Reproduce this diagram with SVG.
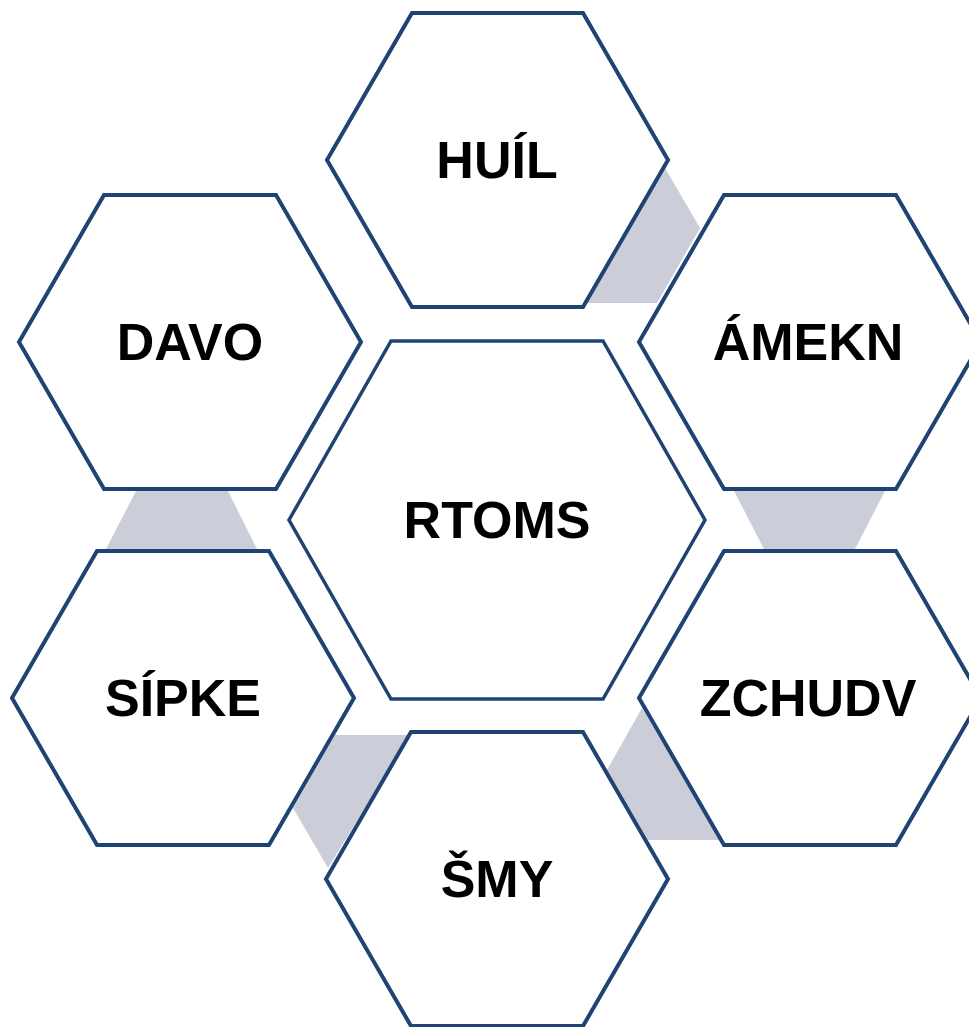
<svg xmlns="http://www.w3.org/2000/svg" width="969" height="1027" viewBox="0 0 969 1027">
<style>
.hex{fill:#ffffff;stroke:#1f4372;stroke-width:4;stroke-linejoin:miter}
.hexc{fill:#ffffff;stroke:#1f4372;stroke-width:3.5}
.link{fill:#cbced8;stroke:none}
.lbl{font-family:"Liberation Sans",Arial,sans-serif;font-weight:bold;font-size:52px;fill:#000000;text-anchor:middle}
</style>
<rect width="969" height="1027" fill="#ffffff"/>
<g id="connectors">
<polygon class="link" points="665,168 700,228 657,303 585,303"/>
<polygon class="link" points="137,489 227,489 258,551 105,551"/>
<polygon class="link" points="733,489 886,489 854,551 765,551"/>
<polygon class="link" points="335,735 410,735 328,868 293,808"/>
<polygon class="link" points="642,708 607,770 648,840 722,840"/>
</g>
<g id="node-huil">
<polygon class="hex" points="412,13 583,13 668,160 583,307 412,307 327,160"/>
<text class="lbl" x="497" y="178">HUÍL</text>
</g>
<g id="node-davo">
<polygon class="hex" points="104,195 276,195 361,342 276,489 104,489 19,342"/>
<text class="lbl" x="190" y="360">DAVO</text>
</g>
<g id="node-amekn">
<polygon class="hex" points="724,195 896,195 981,342 896,489 724,489 639,342"/>
<text class="lbl" x="808" y="360">ÁMEKN</text>
</g>
<g id="node-rtoms">
<polygon class="hexc" points="391,341 603,341 705,520 603,699 391,699 289,520"/>
<text class="lbl" x="497" y="538">RTOMS</text>
</g>
<g id="node-sipke">
<polygon class="hex" points="97,551 269,551 354,698 269,845 97,845 12,698"/>
<text class="lbl" x="183" y="716">SÍPKE</text>
</g>
<g id="node-zchudv">
<polygon class="hex" points="724,551 896,551 981,698 896,845 724,845 639,698"/>
<text class="lbl" x="808" y="716">ZCHUDV</text>
</g>
<g id="node-smy">
<polygon class="hex" points="411,732 583,732 668,879 583,1026 411,1026 326,879"/>
<text class="lbl" x="497" y="897">ŠMY</text>
</g>
</svg>
